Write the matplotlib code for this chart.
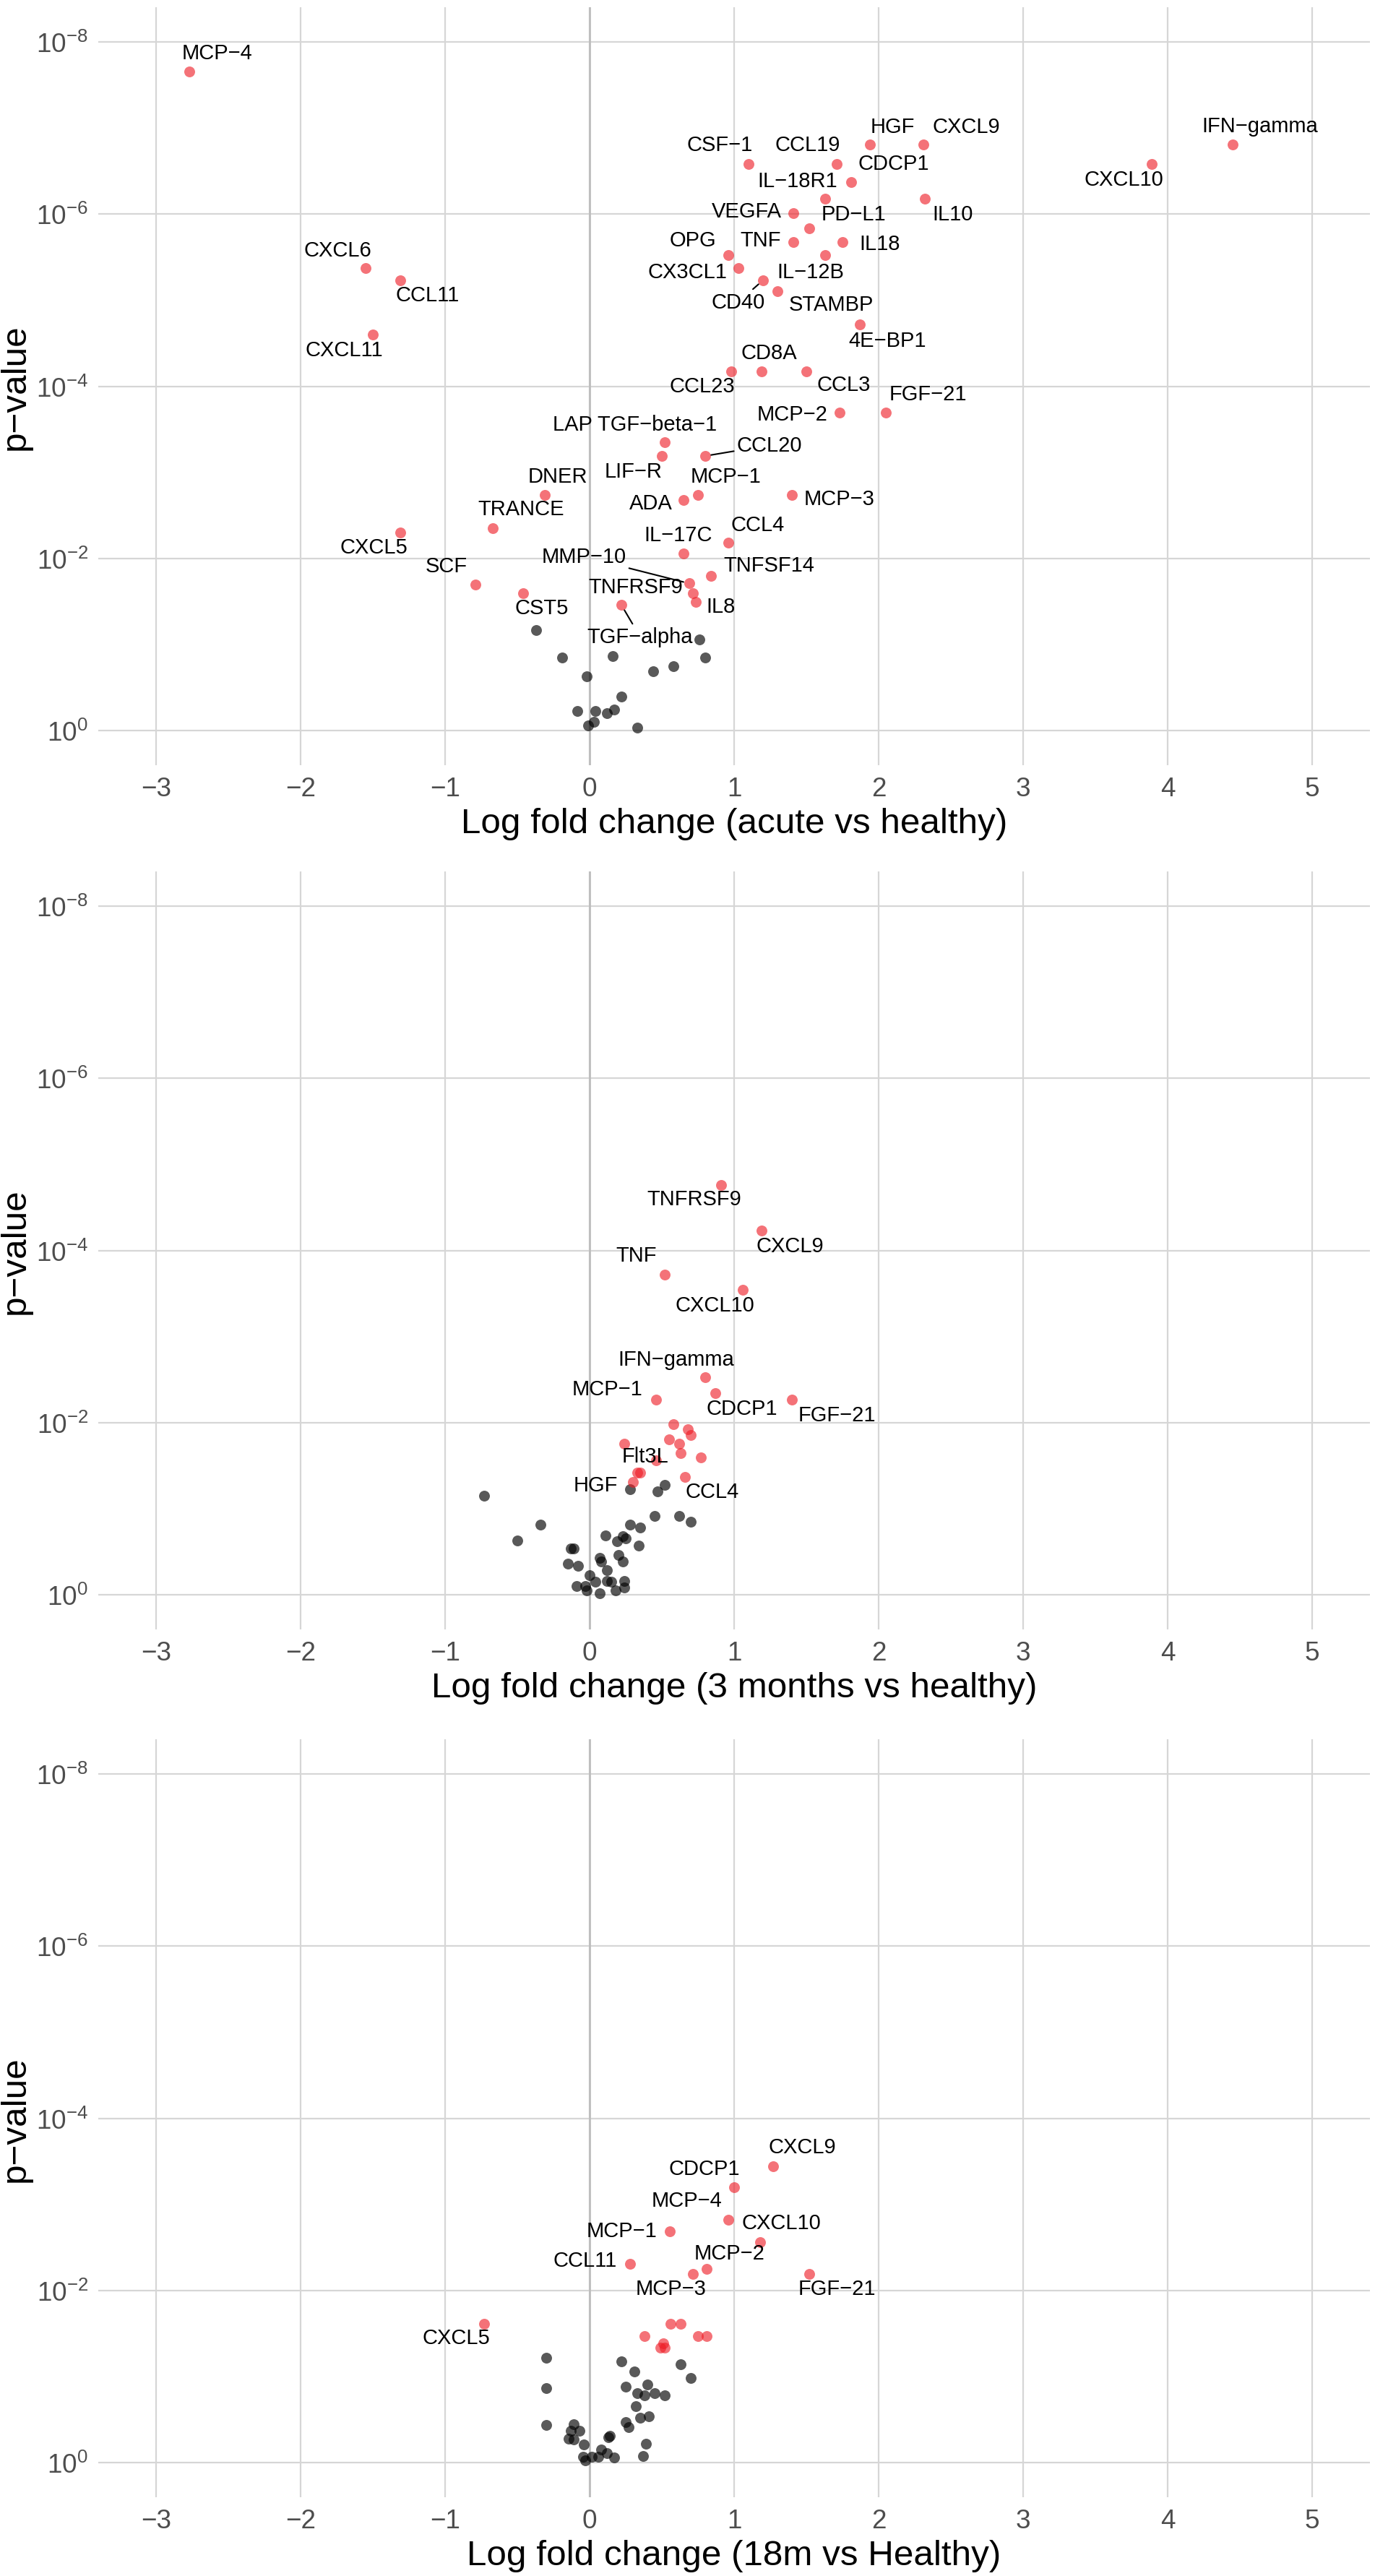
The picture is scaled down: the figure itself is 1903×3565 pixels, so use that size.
import matplotlib
matplotlib.use('Agg')
import matplotlib.pyplot as plt
from matplotlib.ticker import NullLocator, FixedLocator

plt.rcParams['font.family'] = ['Liberation Sans', 'DejaVu Sans']
plt.rcParams['mathtext.fontset'] = 'custom'
plt.rcParams['mathtext.rm'] = 'Liberation Sans'
plt.rcParams['mathtext.it'] = 'Liberation Sans:italic'
plt.rcParams['mathtext.bf'] = 'Liberation Sans:bold'
plt.rcParams['axes.unicode_minus'] = True

# ---------------- DATA (values are -log10(p)) ----------------
# Panel 1: acute vs healthy
sig1_names = ["MCP−4", "CXCL6", "CCL11", "CXCL11", "HGF", "CXCL9", "CSF−1", "CCL19",
              "CDCP1", "IL−18R1", "IL10", "VEGFA", "PD−L1", "TNF", "IL18", "OPG",
              "IL−12B", "CX3CL1", "CD40", "STAMBP", "4E−BP1", "CCL23", "CD8A", "CCL3",
              "MCP−2", "FGF−21", "CXCL10", "IFN−gamma", "LAP TGF−beta−1", "LIF−R",
              "CCL20", "DNER", "MCP−1", "MCP−3", "ADA", "TRANCE", "CXCL5", "CCL4",
              "IL−17C", "TNFSF14", "SCF", "MMP−10", "TNFRSF9", "IL8", "CST5", "TGF−alpha"]
sig1_lfc = [-2.77, -1.55, -1.31, -1.50, 1.94, 2.31, 1.10, 1.71,
            1.81, 1.63, 2.32, 1.41, 1.52, 1.41, 1.75, 0.96,
            1.63, 1.03, 1.20, 1.30, 1.87, 0.98, 1.19, 1.50,
            1.73, 2.05, 3.89, 4.45, 0.52, 0.50,
            0.80, -0.31, 0.75, 1.40, 0.65, -0.67, -1.31, 0.96,
            0.65, 0.84, -0.79, 0.69, 0.715, 0.735, -0.46, 0.22]
sig1_nlp = [7.65, 5.37, 5.23, 4.60, 6.81, 6.81, 6.58, 6.58,
            6.37, 6.18, 6.18, 6.01, 5.83, 5.67, 5.67, 5.52,
            5.52, 5.37, 5.23, 5.10, 4.72, 4.17, 4.17, 4.17,
            3.69, 3.69, 6.58, 6.81, 3.35, 3.19,
            3.19, 2.74, 2.74, 2.74, 2.68, 2.35, 2.30, 2.18,
            2.06, 1.80, 1.70, 1.71, 1.60, 1.50, 1.60, 1.46]
ns1_lfc = [-0.37, 0.76, -0.19, 0.16, 0.80, 0.58, 0.44, -0.02, 0.22, -0.085,
           0.04, 0.12, 0.17, 0.03, -0.01, 0.33]
ns1_nlp = [1.17, 1.06, 0.85, 0.87, 0.85, 0.75, 0.69, 0.63, 0.40, 0.23,
           0.23, 0.20, 0.25, 0.10, 0.06, 0.04]

# Panel 2: 3 months vs healthy
sig2_names = ["TNFRSF9", "CXCL9", "TNF", "CXCL10", "IFN−gamma", "CDCP1", "MCP−1",
              "FGF−21", "Flt3L", "HGF", "CCL4",
              "", "", "", "", "", "", "", "", "", ""]
sig2_lfc = [0.91, 1.19, 0.52, 1.06, 0.80, 0.87, 0.46, 1.40, 0.35, 0.30, 0.66,
            0.58, 0.68, 0.70, 0.55, 0.24, 0.62, 0.63, 0.77, 0.46, 0.33]
sig2_nlp = [4.76, 4.23, 3.72, 3.54, 2.53, 2.34, 2.27, 2.27, 1.42, 1.31, 1.37,
            1.98, 1.92, 1.86, 1.81, 1.76, 1.76, 1.65, 1.60, 1.56, 1.42]
ns2_lfc = [-0.73, 0.28, 0.47, 0.52, -0.34, 0.45, 0.62, 0.70, 0.28, 0.35,
           -0.50, 0.11, 0.23, 0.25, 0.19, 0.34, -0.13, -0.11, 0.07, 0.08,
           0.20, 0.23, -0.15, -0.08, 0.12, 0.00, -0.09, -0.03, 0.04, 0.12,
           0.15, 0.24, 0.24, 0.07, 0.18, -0.02]
ns2_nlp = [1.15, 1.23, 1.20, 1.28, 0.82, 0.92, 0.92, 0.85, 0.82, 0.78,
           0.63, 0.69, 0.68, 0.66, 0.62, 0.57, 0.54, 0.54, 0.43, 0.39,
           0.46, 0.39, 0.36, 0.34, 0.29, 0.23, 0.10, 0.10, 0.15, 0.16,
           0.15, 0.16, 0.09, 0.02, 0.05, 0.05]

# Panel 3: 18m vs Healthy
sig3_names = ["CXCL9", "CDCP1", "MCP−4", "MCP−1", "CXCL10", "CCL11", "MCP−2",
              "MCP−3", "FGF−21", "CXCL5", "", "", "", "", "", "", "", ""]
sig3_lfc = [1.27, 1.00, 0.96, 0.555, 1.18, 0.28, 0.81, 0.715, 1.52, -0.73,
            0.56, 0.63, 0.38, 0.75, 0.81, 0.51, 0.49, 0.52]
sig3_nlp = [3.44, 3.20, 2.82, 2.69, 2.56, 2.31, 2.25, 2.19, 2.19, 1.61,
            1.61, 1.61, 1.47, 1.47, 1.47, 1.39, 1.34, 1.34]
ns3_lfc = [-0.30, -0.30, -0.30, 0.22, 0.31, 0.63, 0.70, 0.40, 0.25, 0.33,
           0.38, 0.45, 0.52, 0.32, 0.35, 0.41, 0.25, 0.27, -0.11, -0.13,
           -0.07, -0.145, -0.11, 0.14, 0.13, 0.39, 0.37, -0.04, -0.045, -0.03,
           0.015, 0.08, 0.12, 0.17, 0.06]
ns3_nlp = [1.22, 0.87, 0.44, 1.18, 1.06, 1.14, 0.98, 0.91, 0.88, 0.81,
           0.78, 0.81, 0.78, 0.66, 0.52, 0.54, 0.47, 0.41, 0.45, 0.37,
           0.37, 0.28, 0.27, 0.31, 0.30, 0.22, 0.08, 0.21, 0.07, 0.03,
           0.07, 0.15, 0.11, 0.06, 0.07]

x_titles = ["Log fold change (acute vs healthy)",
            "Log fold change (3 months vs healthy)",
            "Log fold change (18m vs Healthy)"]
x_ticks = [-3, -2, -1, 0, 1, 2, 3, 4, 5]
y_ticks = [1e0, 1e-2, 1e-4, 1e-6, 1e-8]

# ---------------- LAYOUT (label offsets in pixels, dy downwards) ----------------
off1 = {"MCP−4": (39, -23), "CXCL6": (-39, -22), "CCL11": (38, 23), "CXCL11": (-40, 24),
        "HGF": (31, -22), "CXCL9": (59, -22), "CSF−1": (-40, -24), "CCL19": (-40, -24),
        "CDCP1": (59, -23), "IL−18R1": (-38, -22), "IL10": (39, 24), "VEGFA": (-65, 0),
        "PD−L1": (61, -17), "TNF": (-45, 0), "IL18": (52, 5), "OPG": (-49, -18),
        "IL−12B": (-20, 26), "CX3CL1": (-71, 8), "CD40": (-34, 33), "STAMBP": (74, 21),
        "4E−BP1": (38, 25), "CCL23": (-40, 23), "CD8A": (10, -23), "CCL3": (52, 21),
        "MCP−2": (-65, 5), "FGF−21": (58, -23), "CXCL10": (-39, 24), "IFN−gamma": (38, -23),
        "LAP TGF−beta−1": (-41, -22), "LIF−R": (-39, 24), "CCL20": (89, -12),
        "DNER": (18, -23), "MCP−1": (38, -23), "MCP−3": (66, 8), "ADA": (-45, 7),
        "TRANCE": (39, -24), "CXCL5": (-37, 23), "CCL4": (41, -22), "IL−17C": (-7, -23),
        "TNFSF14": (80, -12), "SCF": (-40, -23), "MMP−10": (-146, -34),
        "TNFRSF9": (-79, -6), "IL8": (35, 9), "CST5": (26, 23), "TGF−alpha": (26, 47)}
seg1 = {"CD40", "CCL20", "MMP−10", "TGF−alpha"}
off2 = {"TNFRSF9": (-37, 22), "CXCL9": (39, 24), "TNF": (-39, -24), "CXCL10": (-39, 24),
        "IFN−gamma": (-40, -22), "MCP−1": (-67, -12), "CDCP1": (37, 24),
        "FGF−21": (62, 24), "Flt3L": (7, -20), "HGF": (-52, 7), "CCL4": (38, 23)}
off3 = {"CXCL9": (40, -24), "CDCP1": (-41, -23), "MCP−4": (-57, -24), "MCP−1": (-66, 2),
        "CXCL10": (29, -24), "CCL11": (-62, -2), "MCP−2": (32, -19), "MCP−3": (-30, 23),
        "FGF−21": (38, 23), "CXCL5": (-39, 22)}

panels = [
    (sig1_names, sig1_lfc, sig1_nlp, ns1_lfc, ns1_nlp, off1, seg1),
    (sig2_names, sig2_lfc, sig2_nlp, ns2_lfc, ns2_nlp, off2, set()),
    (sig3_names, sig3_lfc, sig3_nlp, ns3_lfc, ns3_nlp, off3, set()),
]

W, H = 1903, 3566
fig = plt.figure(figsize=(W / 100, H / 100), dpi=100)
tops = [11, 1207, 2408]
ax_h = 1049
ax_l, ax_w = 136, 1760

RED = '#EE1C25'
PT = 116

for i, (names, lfc, nlp, nlfc, nnlp, offs, segs) in enumerate(panels):
    top = tops[i]
    ax = fig.add_axes([ax_l / W, 1 - (top + ax_h) / H, ax_w / W, ax_h / H])
    ax.set_yscale('log')
    ax.set_xlim(-3.4, 5.4)
    ax.set_ylim(10 ** 0.4, 10 ** -8.4)
    ax.yaxis.set_major_locator(FixedLocator(y_ticks))
    ax.yaxis.set_minor_locator(NullLocator())
    ax.set_xticks(x_ticks)
    for s in ax.spines.values():
        s.set_visible(False)
    ax.grid(True, color='#D6D6D6', linewidth=1.6)
    ax.set_axisbelow(True)
    ax.axvline(0, color='#BDBDBD', linewidth=2.0, zorder=1.5)
    ax.tick_params(axis='both', length=0, labelsize=26.6, labelcolor='#4D4D4D')
    ax.tick_params(axis='x', pad=10.5)
    ax.tick_params(axis='y', pad=10)

    ax.scatter(nlfc, [10 ** (-v) for v in nnlp], s=PT, color='black', alpha=0.65,
               linewidths=0, zorder=3)
    ax.scatter(lfc, [10 ** (-v) for v in nlp], s=PT, color=RED, alpha=0.62,
               linewidths=0, zorder=3)

    for nm, x, v in zip(names, lfc, nlp):
        if not nm:
            continue
        dx, dy = offs[nm]
        kw = {}
        if nm in segs:
            kw['arrowprops'] = dict(arrowstyle='-', color='black', lw=1.5,
                                    shrinkA=1, shrinkB=6)
        ax.annotate(nm, (x, 10 ** (-v)), xytext=(dx, -dy + 3),
                    textcoords='offset pixels', ha='center', va='center',
                    fontsize=21, color='black', zorder=4, **kw)

    ax.set_xlabel(x_titles[i], fontsize=35.6, color='black')
    ax.xaxis.set_label_coords(0.5, -(1118 - 1060) / ax_h)
    ax.set_ylabel('p−value', fontsize=35.6, color='black')
    ax.yaxis.set_label_coords((44 - ax_l) / ax_w, 0.5)

fig.savefig('out.png', dpi=100)
